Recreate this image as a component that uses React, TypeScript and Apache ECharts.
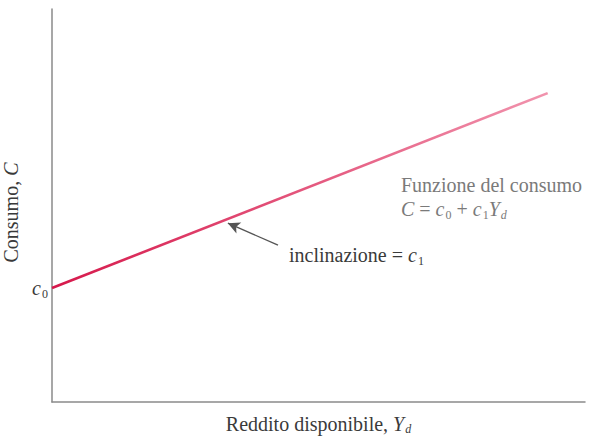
import React, { useEffect, useRef } from "react";
import * as echarts from "echarts";

// Consumption function: C = c0 + c1 * Yd
const incomeValues = [0, 9.3];
const consumptionValues = [2.9, 7.86];
const interceptValue = 2.9;
// slope annotation arrow: [from, to] in data coordinates
const arrowFrom = [4.24, 3.99];
const arrowTo = [3.3, 4.55];

const serif = "'Liberation Serif', 'DejaVu Serif', serif";
const dark = "#3a3a3a";
const grey = "#7a7a7a";

export default function App() {
  const ref = useRef<HTMLDivElement>(null);

  useEffect(() => {
    if (!ref.current) return;
    const chart = echarts.init(ref.current, undefined, { renderer: "svg" });
    // axis-option rich styles use `color`, graphic rich styles use `fill`
    const txt = (color: string) => ({ fontFamily: serif, fontSize: 20, color, fill: color });
    const ital = (color: string) => ({
      fontFamily: serif,
      fontSize: 20,
      fontStyle: "italic",
      color,
      fill: color,
    });
    const subs = (color: string, italic = false) => ({
      fontFamily: serif,
      fontSize: 12,
      fontStyle: italic ? "italic" : "normal",
      color,
      fill: color,
      padding: [11, 0, 0, 1],
    });
    chart.setOption({
      animation: false,
      textStyle: { fontFamily: serif },
      grid: { left: 52, right: 9, top: 9, bottom: 36, containLabel: false, outerBoundsMode: "none" },
      xAxis: {
        type: "value",
        min: 0,
        max: 10,
        name: "{t|Reddito disponibile, }{i|Y}{s|d}",
        nameLocation: "middle",
        nameGap: 10,
        nameTextStyle: {
          rich: { t: txt(dark), i: ital(dark), s: subs(dark, true) },
        },
        axisLine: { lineStyle: { color: "#8a8a8a", width: 1.5 } },
        axisTick: { show: false },
        axisLabel: { show: false },
        splitLine: { show: false },
      },
      yAxis: {
        type: "value",
        min: 0,
        max: 10,
        name: "{t|Consumo, }{i|C}",
        nameLocation: "middle",
        nameRotate: 90,
        nameGap: 10,
        nameTextStyle: {
          padding: [6, 14, 0, 0],
          rich: { t: txt(dark), i: ital(dark) },
        },
        axisLine: { show: true, lineStyle: { color: "#8a8a8a", width: 1.5 } },
        axisTick: { show: false },
        axisLabel: {
          customValues: [interceptValue],
          margin: 4,
          formatter: () => "{c|c}{s|0}",
          rich: { c: ital(dark), s: subs(dark) },
        },
        splitLine: { show: false },
      },
      series: [
        {
          type: "line",
          data: incomeValues.map((x, i) => [x, consumptionValues[i]]),
          symbol: "none",
          lineStyle: {
            width: 2.6,
            color: new echarts.graphic.LinearGradient(0, 0, 1, 0, [
              { offset: 0, color: "#d6184b" },
              { offset: 1, color: "#f193ad" },
            ]),
          },
          markLine: {
            silent: true,
            symbol: ["none", "arrow"],
            symbolSize: [9, 12],
            label: { show: false },
            lineStyle: { color: "#555", width: 1.3, type: "solid" },
            data: [[{ coord: arrowFrom }, { coord: arrowTo }]],
          },
        },
      ],
      graphic: [
        {
          type: "text",
          x: 289,
          y: 255,
          style: {
            text: "{t|inclinazione = }{i|c}{s|1}",
            verticalAlign: "middle",
            fill: dark,
            rich: { t: txt(dark), i: ital(dark), s: subs(dark) },
          },
        },
        {
          type: "text",
          x: 401,
          y: 185,
          style: {
            text: "Funzione del consumo",
            verticalAlign: "middle",
            fontFamily: serif,
            fontSize: 20,
            fill: grey,
          },
        },
        {
          type: "text",
          x: 401,
          y: 209,
          style: {
            text: "{i|C}{t| = }{i|c}{s|0}{t| + }{i|c}{s|1}{i|Y}{si|d}",
            verticalAlign: "middle",
            fill: grey,
            rich: { t: txt(grey), i: ital(grey), s: subs(grey), si: subs(grey, true) },
          },
        },
      ],
    });
    return () => chart.dispose();
  }, []);

  return <div ref={ref} style={{ position: "absolute", left: 0, top: 0, width: 594, height: 438 }} />;
}
